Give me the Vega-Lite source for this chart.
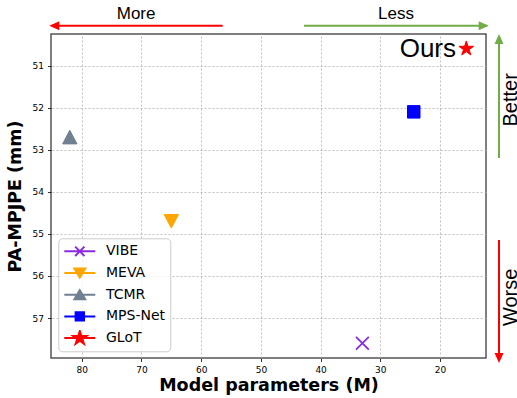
{
  "$schema": "https://vega.github.io/schema/vega-lite/v6.json",
  "width": 435,
  "height": 324,
  "autosize": {"type": "none"},
  "padding": {"left": 51, "top": 34, "right": 31, "bottom": 40},
  "background": "white",
  "config": {
    "view": {"stroke": "#555555", "strokeWidth": 1.5},
    "axis": {
      "grid": true,
      "gridColor": "#b0b0b0",
      "gridDash": [2, 2],
      "gridWidth": 0.8,
      "domain": false,
      "tickColor": "#000000",
      "tickSize": 3.5,
      "tickWidth": 0.8,
      "labelFont": "DejaVu Sans",
      "labelFontSize": 9,
      "labelColor": "#000000",
      "labelPadding": 4,
      "titleFont": "DejaVu Sans",
      "titleFontWeight": "bold",
      "titleFontSize": 17.5,
      "titleColor": "#000000"
    },
    "legend": {
      "orient": "none",
      "legendX": 7.3,
      "legendY": 204.3,
      "padding": 5,
      "symbolSize": 961,
      "symbolOpacity": 1,
      "symbolStrokeWidth": 2,
      "clipHeight": 16,
      "rowPadding": 5.7,
      "labelOffset": 9.7,
      "labelFont": "DejaVu Sans",
      "labelFontSize": 14,
      "labelColor": "#000000",
      "strokeColor": "#cccccc",
      "fillColor": "rgba(255,255,255,0.8)",
      "cornerRadius": 4
    }
  },
  "datasets": {
    "methods": [
      {"method": "VIBE", "params": 33, "pa_mpjpe": 57.6},
      {"method": "MEVA", "params": 65, "pa_mpjpe": 54.7},
      {"method": "TCMR", "params": 82, "pa_mpjpe": 52.7},
      {"method": "MPS-Net", "params": 24.4, "pa_mpjpe": 52.1},
      {"method": "GLoT", "params": 15.6, "pa_mpjpe": 50.6}
    ]
  },
  "layer": [
    {
      "data": {"name": "methods"},
      "mark": {"type": "point", "filled": true, "size": 961, "strokeWidth": 2, "opacity": 0},
      "encoding": {
        "x": {
          "field": "params",
          "type": "quantitative",
          "title": "Model parameters (M)",
          "scale": {"domain": [12.3, 85.15], "reverse": true, "nice": false, "zero": false},
          "axis": {"values": [20, 30, 40, 50, 60, 70, 80], "titleY": 32.5, "titleBaseline": "alphabetic"}
        },
        "y": {
          "field": "pa_mpjpe",
          "type": "quantitative",
          "title": "PA-MPJPE (mm)",
          "scale": {"domain": [50.25, 57.95], "reverse": true, "nice": false, "zero": false},
          "axis": {"values": [51, 52, 53, 54, 55, 56, 57], "titleX": -30.3, "titleBaseline": "alphabetic"}
        },
        "fill": {
          "field": "method",
          "type": "nominal",
          "scale": {"domain": ["VIBE", "MEVA", "TCMR", "MPS-Net", "GLoT"], "range": ["#8a2be2", "#ffa500", "#708090", "#0000ff", "#ff0000"]},
          "legend": {"title": null}
        },
        "stroke": {
          "field": "method",
          "type": "nominal",
          "scale": {"domain": ["VIBE", "MEVA", "TCMR", "MPS-Net", "GLoT"], "range": ["#8a2be2", "#ffa500", "#708090", "#0000ff", "#ff0000"]},
          "legend": {"title": null}
        },
        "shape": {
          "field": "method",
          "type": "nominal",
          "scale": {
            "domain": ["VIBE", "MEVA", "TCMR", "MPS-Net", "GLoT"],
            "range": [
              "M-1,0H1M-0.3,-0.3L0.3,0.3M-0.3,0.3L0.3,-0.3",
              "M-1,0H1M-0.35,-0.29L0.35,-0.29L0,0.29Z",
              "M-1,0H1M0,-0.29L0.35,0.29L-0.35,0.29Z",
              "M-1,0H1M-0.27,-0.27H0.27V0.27H-0.27Z",
              "M-1,0H1M0,-0.45L0.1,-0.138L0.428,-0.139L0.163,0.053L0.265,0.364L0,0.171L-0.265,0.364L-0.163,0.053L-0.428,-0.139L-0.1,-0.138Z"
            ]
          },
          "legend": {"title": null}
        }
      }
    },
    {
      "data": {"name": "methods"},
      "transform": [{"filter": {"field": "method", "equal": "VIBE"}}],
      "mark": {"type": "point", "filled": false, "shape": "M-0.8,-0.8L0.8,0.8M-0.8,0.8L0.8,-0.8", "size": 256, "strokeWidth": 1.8, "color": "#8a2be2", "opacity": 1},
      "encoding": {
        "x": {"field": "params", "type": "quantitative", "title": "Model parameters (M)"},
        "y": {"field": "pa_mpjpe", "type": "quantitative", "title": "PA-MPJPE (mm)"}
      }
    },
    {
      "data": {"name": "methods"},
      "transform": [{"filter": {"field": "method", "equal": "MEVA"}}],
      "mark": {"type": "point", "filled": true, "shape": "M-0.9,-0.85L0.9,-0.85L0,0.85Z", "size": 256, "strokeWidth": 1, "color": "#ffa500", "stroke": "#ffa500", "opacity": 1},
      "encoding": {
        "x": {"field": "params", "type": "quantitative", "title": "Model parameters (M)"},
        "y": {"field": "pa_mpjpe", "type": "quantitative", "title": "PA-MPJPE (mm)"}
      }
    },
    {
      "data": {"name": "methods"},
      "transform": [{"filter": {"field": "method", "equal": "TCMR"}}],
      "mark": {"type": "point", "filled": true, "shape": "M0,-0.85L0.9,0.85L-0.9,0.85Z", "size": 256, "strokeWidth": 1, "color": "#708090", "stroke": "#708090", "opacity": 1},
      "encoding": {
        "x": {"field": "params", "type": "quantitative", "title": "Model parameters (M)"},
        "y": {"field": "pa_mpjpe", "type": "quantitative", "title": "PA-MPJPE (mm)"}
      }
    },
    {
      "data": {"name": "methods"},
      "transform": [{"filter": {"field": "method", "equal": "MPS-Net"}}],
      "mark": {"type": "point", "filled": true, "shape": "M-0.78,-0.78H0.78V0.78H-0.78Z", "size": 256, "strokeWidth": 1, "color": "#0000ff", "stroke": "#0000ff", "opacity": 1},
      "encoding": {
        "x": {"field": "params", "type": "quantitative", "title": "Model parameters (M)"},
        "y": {"field": "pa_mpjpe", "type": "quantitative", "title": "PA-MPJPE (mm)"}
      }
    },
    {
      "data": {"name": "methods"},
      "transform": [{"filter": {"field": "method", "equal": "GLoT"}}],
      "mark": {"type": "point", "filled": true, "shape": "M0,-0.97L0.217,-0.298L0.922,-0.3L0.351,0.114L0.57,0.785L0,0.369L-0.57,0.785L-0.351,0.114L-0.922,-0.3L-0.217,-0.298Z", "size": 256, "strokeWidth": 1, "color": "#ff0000", "stroke": "#ff0000", "opacity": 1},
      "encoding": {
        "x": {"field": "params", "type": "quantitative", "title": "Model parameters (M)"},
        "y": {"field": "pa_mpjpe", "type": "quantitative", "title": "PA-MPJPE (mm)"}
      }
    },
    {
      "data": {"values": [{}]},
      "mark": {"type": "text", "text": "Ours", "font": "Liberation Sans", "fontSize": 26, "align": "right", "baseline": "alphabetic", "color": "#000000"},
      "encoding": {"x": {"datum": 17.32}, "y": {"datum": 50.785}}
    },
    {
      "data": {"values": [{}]},
      "mark": {"type": "rule", "color": "#ff0000", "strokeWidth": 2},
      "encoding": {"x": {"datum": 56.4}, "x2": {"datum": 85.0}, "y": {"datum": 50.053}}
    },
    {
      "data": {"values": [{}]},
      "mark": {"type": "point", "shape": "M0,0L1,-0.45L1,0.45Z", "size": 400, "filled": true, "color": "#ff0000", "strokeWidth": 0, "opacity": 1},
      "encoding": {"x": {"datum": 85.43}, "y": {"datum": 50.053}}
    },
    {
      "data": {"values": [{}]},
      "mark": {"type": "rule", "color": "#70ad47", "strokeWidth": 2},
      "encoding": {"x": {"datum": 42.78}, "x2": {"datum": 12.1}, "y": {"datum": 50.053}}
    },
    {
      "data": {"values": [{}]},
      "mark": {"type": "point", "shape": "M0,0L-1,-0.45L-1,0.45Z", "size": 400, "filled": true, "color": "#70ad47", "strokeWidth": 0, "opacity": 1},
      "encoding": {"x": {"datum": 11.85}, "y": {"datum": 50.053}}
    },
    {
      "data": {"values": [{}]},
      "mark": {"type": "rule", "color": "#70ad47", "strokeWidth": 2},
      "encoding": {"x": {"datum": 10.12}, "y": {"datum": 53.197}, "y2": {"datum": 50.35}}
    },
    {
      "data": {"values": [{}]},
      "mark": {"type": "point", "shape": "M0,0L-0.45,1L0.45,1Z", "size": 400, "filled": true, "color": "#70ad47", "strokeWidth": 0, "opacity": 1},
      "encoding": {"x": {"datum": 10.12}, "y": {"datum": 50.25}}
    },
    {
      "data": {"values": [{}]},
      "mark": {"type": "rule", "color": "#ff0000", "strokeWidth": 2},
      "encoding": {"x": {"datum": 10.12}, "y": {"datum": 55.145}, "y2": {"datum": 57.97}}
    },
    {
      "data": {"values": [{}]},
      "mark": {"type": "point", "shape": "M0,0L-0.45,-1L0.45,-1Z", "size": 400, "filled": true, "color": "#ff0000", "strokeWidth": 0, "opacity": 1},
      "encoding": {"x": {"datum": 10.12}, "y": {"datum": 58.07}}
    },
    {
      "data": {"values": [{}]},
      "mark": {"type": "text", "text": "More", "font": "Liberation Sans", "fontSize": 17, "align": "center", "baseline": "alphabetic", "color": "#000000"},
      "encoding": {"x": {"datum": 70.9}, "y": {"datum": 49.9}}
    },
    {
      "data": {"values": [{}]},
      "mark": {"type": "text", "text": "Less", "font": "Liberation Sans", "fontSize": 17, "align": "center", "baseline": "alphabetic", "color": "#000000"},
      "encoding": {"x": {"datum": 27.37}, "y": {"datum": 49.9}}
    },
    {
      "data": {"values": [{}]},
      "mark": {"type": "text", "text": "Better", "font": "Liberation Sans", "fontSize": 20, "angle": 270, "align": "center", "baseline": "alphabetic", "color": "#000000"},
      "encoding": {"x": {"datum": 7.19}, "y": {"datum": 51.816}}
    },
    {
      "data": {"values": [{}]},
      "mark": {"type": "text", "text": "Worse", "font": "Liberation Sans", "fontSize": 20, "angle": 270, "align": "center", "baseline": "alphabetic", "color": "#000000"},
      "encoding": {"x": {"datum": 7.19}, "y": {"datum": 56.51}}
    }
  ]
}
